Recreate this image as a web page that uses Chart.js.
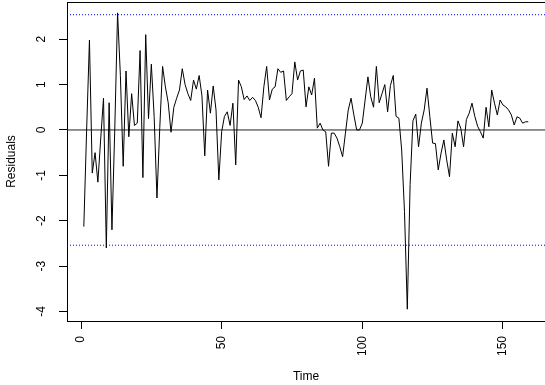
<!DOCTYPE html>
<html><head><meta charset="utf-8">
<script src="https://cdn.jsdelivr.net/npm/chart.js@4"></script>
<style>html,body{margin:0;padding:0;background:#fff;overflow:hidden}#wrap{width:545px;height:385px}</style>
</head><body><div id="wrap"><canvas id="c" width="545" height="385"></canvas></div>
<script>
const residuals = [
-2.13, 0.0, 1.98, -0.95, -0.5, -1.15, -0.2, 0.7, -2.6, 0.6,
-2.2, 0.0, 2.58, 1.2, -0.8, 1.3, -0.15, 0.8, 0.1, 0.15,
1.75, -1.05, 2.1, 0.25, 1.45, 0.3, -1.5, 0.05, 1.4, 0.95,
0.6, -0.05, 0.5, 0.7, 0.88, 1.35, 1.0, 0.8, 0.65, 1.1,
0.9, 1.2, 0.75, -0.57, 0.88, 0.37, 0.97, 0.44, -1.1, -0.04,
0.3, 0.4, 0.1, 0.59, -0.77, 1.1, 0.95, 0.67, 0.75, 0.65,
0.72, 0.65, 0.5, 0.27, 0.95, 1.4, 0.66, 0.9, 0.95, 1.35,
1.27, 1.3, 0.65, 0.73, 0.8, 1.5, 1.1, 1.3, 1.32, 0.51,
0.95, 0.77, 1.14, 0.04, 0.15, 0.0, -0.04, -0.8, -0.07, -0.07,
-0.18, -0.37, -0.59, -0.07, 0.44, 0.7, 0.33, 0.0, 0.0, 0.15,
0.66, 1.17, 0.73, 0.5, 1.4, 0.6, 0.8, 1.0, 0.4, 0.98,
1.2, 0.3, 0.26, -0.44, -1.8, -3.95, -1.2, 0.2, 0.35, -0.37,
0.15, 0.44, 0.92, 0.3, -0.29, -0.3, -0.88, -0.51, -0.22, -0.66,
-1.03, -0.07, -0.37, 0.2, 0.04, -0.37, 0.23, 0.37, 0.59, 0.3,
0.08, -0.04, -0.18, 0.5, 0.07, 0.88, 0.59, 0.33, 0.66, 0.55,
0.51, 0.44, 0.33, 0.11, 0.29, 0.26, 0.15, 0.18, 0.18
];
const xTickValues = [0, 50, 100, 150];
const yTickValues = [-4, -3, -2, -1, 0, 1, 2];
const limitValue = 2.54;
const xRange = [-4.98, 164.95];
const yRange = [-4.21, 2.82];
const xTitle = 'Time';
const yTitle = 'Residuals';

const time = residuals.map((_, i) => i + 1);
const seriesPts = time.map((t, i) => ({x: t, y: residuals[i]}));
const hline = v => [{x: xRange[0], y: v}, {x: xRange[1], y: v}];
const FONT = "'Liberation Sans', Arial, sans-serif";

const framePlugin = {
  id: 'frame',
  afterDraw(chart) {
    const ctx = chart.ctx, a = chart.chartArea;
    const ys = chart.scales.y;
    ctx.save();
    ctx.strokeStyle = '#000';
    ctx.lineWidth = 1;
    ctx.beginPath();
    ctx.moveTo(Math.round(a.left) + 0.5, Math.round(a.top) + 0.5);
    ctx.lineTo(Math.round(a.right) + 0.5, Math.round(a.top) + 0.5);
    ctx.lineTo(Math.round(a.right) + 0.5, Math.round(a.bottom) + 0.5);
    ctx.stroke();
    ctx.fillStyle = '#000';
    ctx.font = '12px ' + FONT;
    ctx.textAlign = 'center';
    ctx.textBaseline = 'middle';
    yTickValues.forEach(v => {
      const py = ys.getPixelForValue(v);
      ctx.save();
      ctx.translate(42, py);
      ctx.rotate(-Math.PI / 2);
      ctx.fillText(String(v), 0, 0);
      ctx.restore();
    });
    ctx.save();
    ctx.translate(12, (a.top + a.bottom) / 2);
    ctx.rotate(-Math.PI / 2);
    ctx.fillText(yTitle, 0, 0);
    ctx.restore();
    ctx.fillText(xTitle, (a.left + a.right) / 2, 377);
    ctx.restore();
  }
};

new Chart(document.getElementById('c'), {
  type: 'line',
  data: {
    datasets: [
      {data: seriesPts, borderColor: '#000', borderWidth: 1, pointRadius: 0, tension: 0, fill: false},
      {data: hline(0), borderColor: '#222', borderWidth: 1, pointRadius: 0},
      {data: hline(limitValue), borderColor: '#0000ff', borderWidth: 1, borderDash: [1, 2], pointRadius: 0},
      {data: hline(-limitValue), borderColor: '#0000ff', borderWidth: 1, borderDash: [1, 2], pointRadius: 0}
    ]
  },
  options: {
    responsive: false,
    animation: false,
    devicePixelRatio: 1,
    layout: {padding: {top: 2, left: 0, right: 0, bottom: 0}},
    plugins: {legend: {display: false}, tooltip: {enabled: false}},
    scales: {
      x: {
        type: 'linear', min: xRange[0], max: xRange[1],
        afterBuildTicks: s => { s.ticks = xTickValues.map(v => ({value: v})); },
        afterFit: s => { s.height = 64; },
        grid: {display: true, drawOnChartArea: false, drawTicks: true, tickLength: 8, color: '#000', lineWidth: 1},
        border: {display: true, color: '#000', width: 1},
        ticks: {minRotation: 90, maxRotation: 90, padding: 7, autoSkip: false, color: '#000', font: {family: FONT, size: 12}}
      },
      y: {
        type: 'linear', min: yRange[0], max: yRange[1],
        afterBuildTicks: s => { s.ticks = yTickValues.map(v => ({value: v})); },
        afterFit: s => { s.width = 67; },
        grid: {display: true, drawOnChartArea: false, drawTicks: true, tickLength: 8, color: '#000', lineWidth: 1},
        border: {display: true, color: '#000', width: 1},
        ticks: {display: false}
      }
    }
  },
  plugins: [framePlugin]
});
</script></body></html>
